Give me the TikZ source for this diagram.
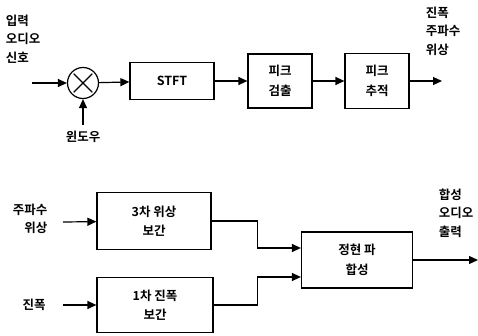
\documentclass[tikz,border=0pt]{standalone}
\usepackage{fontspec}
\setmainfont{Noto Sans CJK KR}[BoldFont={Noto Sans CJK KR Bold}]
\usetikzlibrary{arrows.meta,positioning}

\begin{document}
\begin{tikzpicture}[x=1pt, y=-1pt, line width=1.2pt,
    >={Triangle[length=9pt, width=8pt]},
    blk/.style={draw, align=center, inner sep=0pt,
        font=\bfseries\fontsize{12.5}{19.5}\selectfont},
    lbl/.style={align=left, inner sep=0pt,
        font=\bfseries\fontsize{12.5}{18.5}\selectfont}]
    \useasboundingbox (0,0) rectangle (478,336);

    % Analysis part
    \node[lbl] (insig) at (23, 39) {입력\\오디오\\신호};
    \coordinate (in1) at (32, 83);
    \node[draw, circle, minimum size=31pt, inner sep=0pt] (mix) at (83, 83) {};
    \draw[shorten >=3pt, shorten <=3pt] (mix.north west) -- (mix.south east);
    \draw[shorten >=3pt, shorten <=3pt] (mix.north east) -- (mix.south west);
    \coordinate (win) at (83, 125);
    \node[lbl] (winlbl) at (83, 137) {윈도우};
    \node[blk, minimum width=84pt, minimum height=37pt] (stft) at (172, 81) {STFT};
    \node[blk, minimum width=64pt, minimum height=54pt] (detect) at (280, 81) {피크\\검출};
    \node[blk, minimum width=64pt, minimum height=55pt] (track) at (377, 81) {피크\\추적};
    \coordinate (out1) at (442, 81);
    \node[lbl] (params) at (443, 31) {진폭\\주파수\\위상};

    \draw[->] (in1) -- (mix);
    \draw[->] (win) -- (mix);
    \draw[->] (mix) -- (stft);
    \draw[->] (stft) -- (detect);
    \draw[->] (detect) -- (track);
    \draw[->] (track) -- (out1);

    % Synthesis part
    \node[lbl, align=right] (fplbl) at (30, 219) {주파수\\위상};
    \coordinate (in2) at (63, 222);
    \node[blk, minimum width=114pt, minimum height=57pt] (interp3) at (154, 221) {3차 위상\\보간};
    \node[lbl] (amplbl) at (34, 305) {진폭};
    \coordinate (in3) at (63, 305);
    \node[blk, minimum width=116pt, minimum height=55pt] (interp1) at (155, 305) {1차 진폭\\보간};
    \node[blk, minimum width=111pt, minimum height=56pt] (synth) at (357, 260) {정현 파\\합성};
    \coordinate (out2) at (478, 260);
    \node[lbl] (outsig) at (456, 213) {합성\\오디오\\출력};

    \draw[->] (in2) -- (interp3);
    \draw[->] (in3) -- (interp1);
    \draw[->] (interp3.east) -- ++(46,0) |- ([yshift=12pt]synth.west);
    \draw[->] (interp1.east) -- ++(44,0) |- ([yshift=-17pt]synth.west);
    \draw[->] (synth) -- (out2);
\end{tikzpicture}
\end{document}
